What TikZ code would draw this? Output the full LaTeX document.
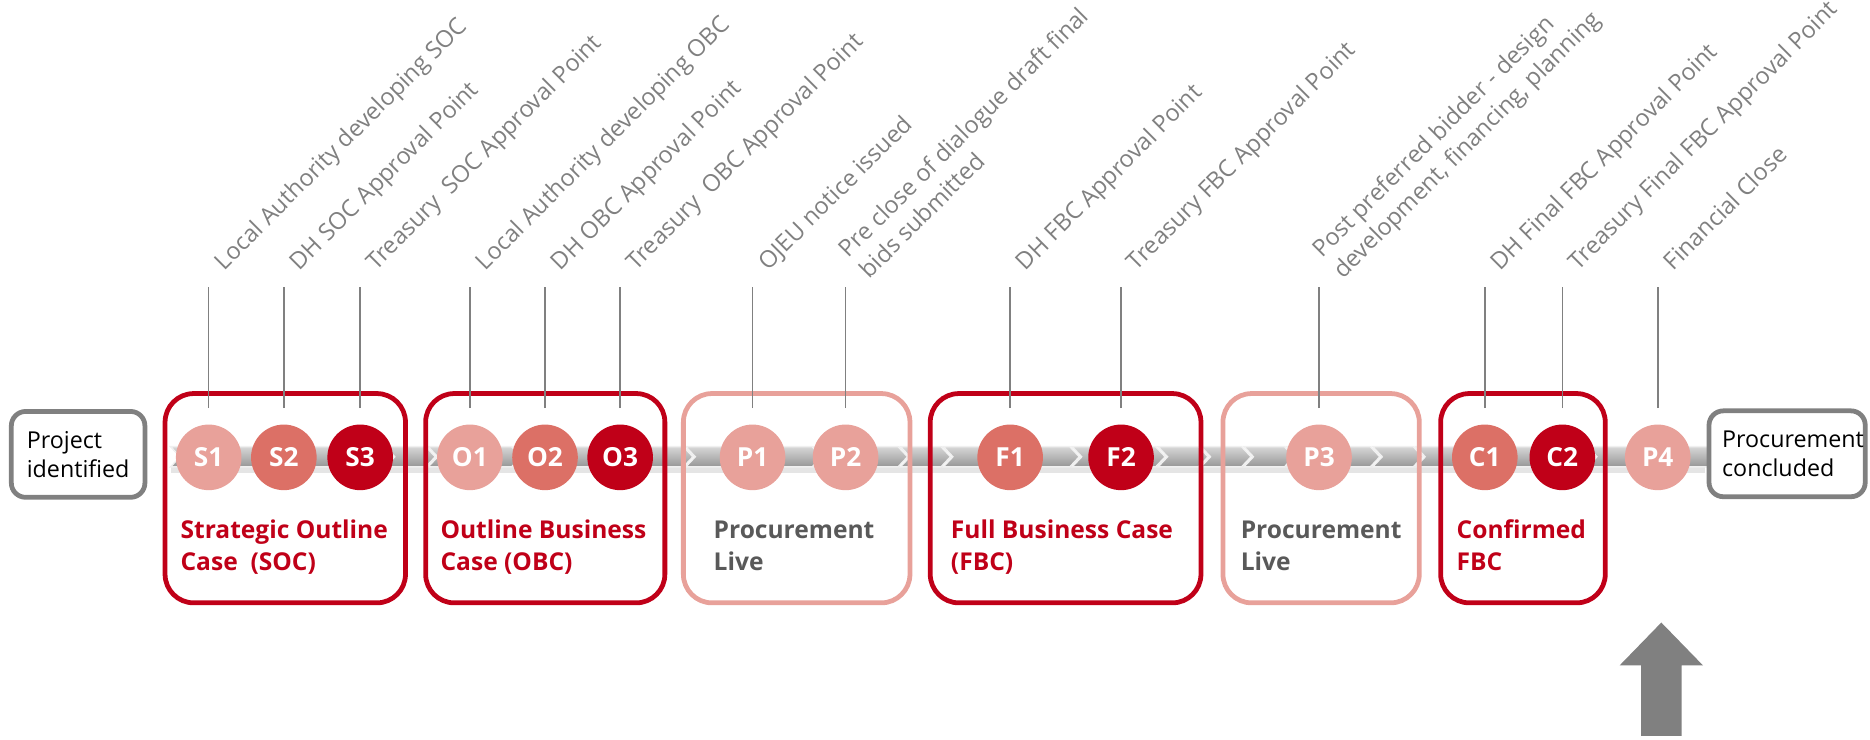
\documentclass[tikz,border=0pt]{standalone}
\usepackage{fontspec}
\setmainfont{Open Sans}
\definecolor{darkred}{RGB}{192,0,24}
\definecolor{midred}{RGB}{220,112,102}
\definecolor{lightred}{RGB}{232,161,154}
\definecolor{framegray}{RGB}{128,128,128}
\definecolor{textgray}{RGB}{89,89,89}
\definecolor{bandtop}{RGB}{215,215,215}
\definecolor{bandbot}{RGB}{150,150,150}

\begin{document}
\begin{tikzpicture}[x=0.5pt, y=-0.5pt,
    mile/.style={circle, minimum size=27.5pt, inner sep=0pt, text=white,
      font=\fontsize{11}{12}\selectfont\bfseries},
    stage/.style={draw, line width=2pt, rounded corners=12pt,
      minimum height=87.75pt, inner sep=0pt},
    endbox/.style={draw=framegray, line width=2pt, rounded corners=6pt, fill=white,
      minimum height=36pt, align=left, font=\fontsize{9.75}{12}\selectfont},
    chev/.style={draw=white!88!gray, line width=0.6pt, top color=bandtop, bottom color=bandbot},
    tick/.style={framegray, line width=0.65pt},
    lbl/.style={rotate=45, anchor=base west, inner sep=0pt, align=left, text=framegray,
      font=\fontsize{9.9}{12.35}\selectfont},
    caption/.style={anchor=base west, inner sep=0pt, align=left,
      font=\fontsize{10.3}{13.3}\selectfont\bfseries}]
    \useasboundingbox (0,0) rectangle (1568,620);

    % timeline band
    \fill[black, opacity=0.1] (143,391) rectangle (1430,397);
    \foreach \i in {0,...,35}{
        \pgfmathsetmacro\a{143+36*\i}
        \filldraw[chev] (\a,374.5) -- ++(34,0) -- ++(8,8.5) -- ++(-8,8.5) -- ++(-34,0) -- ++(8,-8.5) -- cycle;
    }

    % start and end
    \node[endbox, text width=43pt, inner xsep=6.5pt, minimum width=56pt] (start) at (65.5,381) {Project\\identified};
    \node[endbox, text width=54.5pt, inner xsep=5.5pt, minimum width=65.5pt] (finish) at (1498.5,380.5) {Procurement\\concluded};

    % stages
    \node[stage, draw=darkred, minimum width=100.8pt] (soc) at (239.2,417.75) {};
    \node[stage, draw=darkred, minimum width=100.3pt] (obc) at (457.2,417.75) {};
    \node[stage, draw=lightred, minimum width=95pt] (live1) at (668,417.75) {};
    \node[stage, draw=darkred, minimum width=113.5pt] (fbc) at (893.5,417.75) {};
    \node[stage, draw=lightred, minimum width=82.3pt] (live2) at (1107.75,417.75) {};
    \node[stage, draw=darkred, minimum width=69pt] (cfbc) at (1277,417.75) {};

    \node[caption, text=darkred] at (151,478) {Strategic Outline\\Case\ \ (SOC)};
    \node[caption, text=darkred] at (369,478) {Outline Business\\Case (OBC)};
    \node[caption, text=textgray] at (598,478) {Procurement\\Live};
    \node[caption, text=darkred] at (797,478) {Full Business Case\\(FBC)};
    \node[caption, text=textgray] at (1040,478) {Procurement\\Live};
    \node[caption, text=darkred] at (1221,478) {Confirmed\\FBC};

    % milestones
    \node[mile, fill=lightred] (S1) at (175,383.5) {S1};
    \node[mile, fill=midred] (S2) at (238,383.5) {S2};
    \node[mile, fill=darkred] (S3) at (302,383.5) {S3};
    \node[mile, fill=lightred] (O1) at (394,383.5) {O1};
    \node[mile, fill=midred] (O2) at (457,383.5) {O2};
    \node[mile, fill=darkred] (O3) at (520,383.5) {O3};
    \node[mile, fill=lightred] (P1) at (631,383.5) {P1};
    \node[mile, fill=lightred] (P2) at (709,383.5) {P2};
    \node[mile, fill=midred] (F1) at (847,383.5) {F1};
    \node[mile, fill=darkred] (F2) at (940,383.5) {F2};
    \node[mile, fill=lightred] (P3) at (1106,383.5) {P3};
    \node[mile, fill=midred] (C1) at (1245,383.5) {C1};
    \node[mile, fill=darkred] (C2) at (1310,383.5) {C2};
    \node[mile, fill=lightred] (P4) at (1390,383.5) {P4};

    % ticks
    \draw[tick] ([yshift=6.7pt]S1.north) -- ++(0,-101.5) coordinate (S1t);
    \draw[tick] ([yshift=6.7pt]S2.north) -- ++(0,-101.5) coordinate (S2t);
    \draw[tick] ([yshift=6.7pt]S3.north) -- ++(0,-101.5) coordinate (S3t);
    \draw[tick] ([yshift=6.7pt]O1.north) -- ++(0,-101.5) coordinate (O1t);
    \draw[tick] ([yshift=6.7pt]O2.north) -- ++(0,-101.5) coordinate (O2t);
    \draw[tick] ([yshift=6.7pt]O3.north) -- ++(0,-101.5) coordinate (O3t);
    \draw[tick] ([yshift=6.7pt]P1.north) -- ++(0,-101.5) coordinate (P1t);
    \draw[tick] ([yshift=6.7pt]P2.north) -- ++(0,-101.5) coordinate (P2t);
    \draw[tick] ([yshift=6.7pt]F1.north) -- ++(0,-101.5) coordinate (F1t);
    \draw[tick] ([yshift=6.7pt]F2.north) -- ++(0,-101.5) coordinate (F2t);
    \draw[tick] ([yshift=6.7pt]P3.north) -- ++(0,-101.5) coordinate (P3t);
    \draw[tick] ([yshift=6.7pt]C1.north) -- ++(0,-101.5) coordinate (C1t);
    \draw[tick] ([yshift=6.7pt]C2.north) -- ++(0,-101.5) coordinate (C2t);
    \draw[tick] ([yshift=6.7pt]P4.north) -- ++(0,-101.5) coordinate (P4t);

    % labels
    \node[lbl] at ([xshift=6.5pt,yshift=6.5pt]S1t) {Local Authority developing SOC};
    \node[lbl] at ([xshift=6.5pt,yshift=6.5pt]S2t) {DH SOC Approval Point};
    \node[lbl] at ([xshift=6.5pt,yshift=6.5pt]S3t) {Treasury\ \ SOC Approval Point};
    \node[lbl] at ([xshift=6.5pt,yshift=6.5pt]O1t) {Local Authority developing OBC};
    \node[lbl] at ([xshift=6.5pt,yshift=6.5pt]O2t) {DH OBC Approval Point};
    \node[lbl] at ([xshift=6.5pt,yshift=6.5pt]O3t) {Treasury\ \ OBC Approval Point};
    \node[lbl] at ([xshift=6.5pt,yshift=6.5pt]P1t) {OJEU notice issued};
    \node[lbl] at ([xshift=10pt,yshift=3pt]P2t) {Pre close of dialogue draft final\\bids submitted};
    \node[lbl] at ([xshift=6.5pt,yshift=6.5pt]F1t) {DH FBC Approval Point};
    \node[lbl] at ([xshift=6.5pt,yshift=6.5pt]F2t) {Treasury FBC Approval Point};
    \node[lbl] at ([xshift=10pt,yshift=3pt]P3t) {Post preferred bidder - design\\development, financing, planning};
    \node[lbl] at ([xshift=6.5pt,yshift=6.5pt]C1t) {DH Final FBC Approval Point};
    \node[lbl] at ([xshift=6.5pt,yshift=6.5pt]C2t) {Treasury Final FBC Approval Point};
    \node[lbl] at ([xshift=6.5pt,yshift=6.5pt]P4t) {Financial Close};

    % pointer
    \fill[framegray] (1393,522) -- (1428,558) -- (1410,558) -- (1410,617) -- (1376,617) -- (1376,558) -- (1358,558) -- cycle;
\end{tikzpicture}
\end{document}
